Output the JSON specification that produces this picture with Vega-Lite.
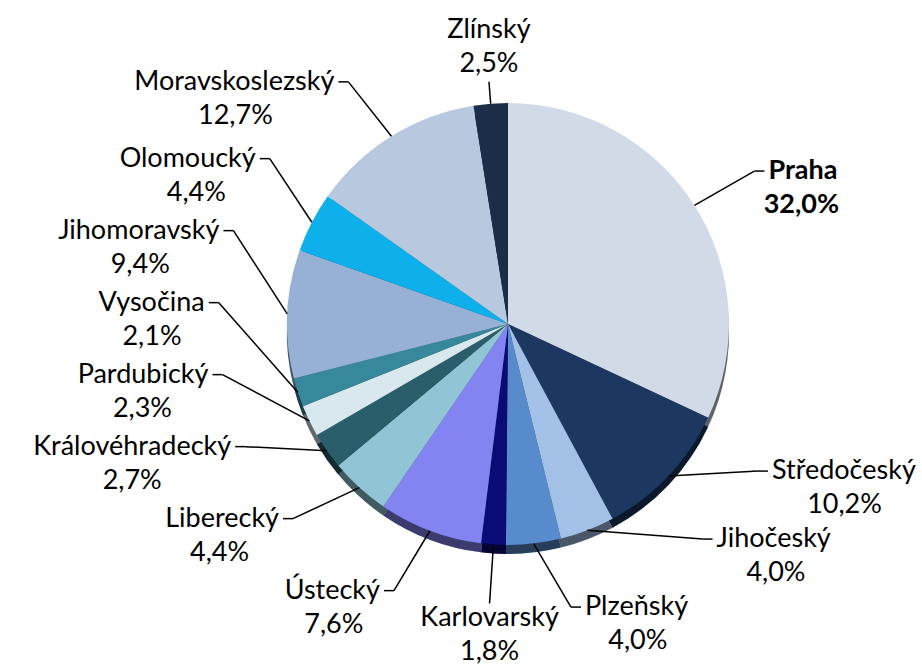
{
  "$schema": "https://vega.github.io/schema/vega-lite/v6.json",
  "width": 828,
  "height": 648,
  "autosize": {"type": "none"},
  "padding": {"left": 94, "top": 0, "right": 0, "bottom": 18},
  "background": "white",
  "config": {"view": {"stroke": null}},
  "data": {
    "values": [
      {"region": "Praha", "share": 32.0},
      {"region": "Středočeský", "share": 10.2},
      {"region": "Jihočeský", "share": 4.0},
      {"region": "Plzeňský", "share": 4.0},
      {"region": "Karlovarský", "share": 1.8},
      {"region": "Ústecký", "share": 7.6},
      {"region": "Liberecký", "share": 4.4},
      {"region": "Královéhradecký", "share": 2.7},
      {"region": "Pardubický", "share": 2.3},
      {"region": "Vysočina", "share": 2.1},
      {"region": "Jihomoravský", "share": 9.4},
      {"region": "Olomoucký", "share": 4.4},
      {"region": "Moravskoslezský", "share": 12.7},
      {"region": "Zlínský", "share": 2.5}
    ]
  },
  "transform": [
    {"window": [{"op": "row_number", "as": "idx"}]},
    {"window": [{"op": "sum", "field": "share", "as": "cum"}], "sort": [{"field": "idx"}], "frame": [null, 0]},
    {"joinaggregate": [{"op": "sum", "field": "share", "as": "total"}, {"op": "max", "field": "share", "as": "maxShare"}]},
    {"calculate": "2*PI*(datum.cum - datum.share/2)/datum.total", "as": "a"},
    {"calculate": "sin(datum.a)", "as": "s"},
    {"calculate": "cos(datum.a)", "as": "c"},
    {"calculate": "datum.s > 0.1 ? 1 : (datum.s < -0.1 ? -1 : 0)", "as": "sg"},
    {"calculate": "285*datum.c", "as": "ny"},
    {"window": [{"op": "row_number", "as": "rk"}], "groupby": ["sg"], "sort": [{"field": "ny", "order": "ascending"}]},
    {"calculate": "datum.sg > 0 ? 68 : 72", "as": "gap"},
    {"calculate": "datum.ny - datum.rk*datum.gap", "as": "z"},
    {"window": [{"op": "max", "field": "z", "as": "zmax"}], "groupby": ["sg"], "sort": [{"field": "ny", "order": "ascending"}], "frame": [null, 0]},
    {"calculate": "datum.zmax + datum.rk*datum.gap", "as": "ly"},
    {"calculate": "datum.c > 0 ? 243 : 280", "as": "rtb"},
    {"calculate": "datum.sg != 0 ? datum.sg*sqrt(max(84100 - datum.ly*datum.ly, 400)) : datum.rtb*datum.s", "as": "bx"},
    {"calculate": "datum.sg != 0 ? datum.ly : datum.rtb*datum.c", "as": "by"},
    {"calculate": "221*datum.s", "as": "ex"},
    {"calculate": "221*datum.c", "as": "ey"},
    {"calculate": "datum.bx + datum.sg*10", "as": "ax"},
    {"calculate": "datum.ax + datum.sg*4", "as": "nx"},
    {"calculate": "datum.sg != 0 ? datum.by : (datum.c > 0 ? datum.by + 52 : datum.by - 15)", "as": "nyy"},
    {"calculate": "datum.nx + datum.sg*length(datum.region)*6.6", "as": "vx"},
    {"calculate": "datum.sg != 0 ? datum.by - 34 : (datum.c > 0 ? datum.by + 18 : datum.by - 49)", "as": "vy"},
    {"calculate": "replace(format(datum.share, '.1f'), '.', ',') + '%'", "as": "vlabel"}
  ],
  "layer": [
    {
      "mark": {"type": "arc", "radius": 221, "yOffset": 9},
      "encoding": {
        "theta": {"field": "share", "type": "quantitative", "stack": true},
        "order": {"field": "idx", "type": "quantitative"},
        "color": {
          "field": "region", "type": "nominal", "legend": null,
          "scale": {
            "domain": ["Praha", "Středočeský", "Jihočeský", "Plzeňský", "Karlovarský", "Ústecký", "Liberecký", "Královéhradecký", "Pardubický", "Vysočina", "Jihomoravský", "Olomoucký", "Moravskoslezský", "Zlínský"],
            "range": ["#d1dbe8", "#1c3760", "#a3c1e6", "#588bcb", "#0b0b78", "#8383f1", "#91c5d5", "#2a5e6b", "#d9e8ee", "#36889a", "#96b1d5", "#0db0ea", "#b8c9df", "#1c2e47"]
          }
        }
      }
    },
    {
      "mark": {"type": "arc", "radius": 221, "yOffset": 9, "color": "#000000", "opacity": 0.55},
      "encoding": {
        "theta": {"field": "share", "type": "quantitative", "stack": true},
        "order": {"field": "idx", "type": "quantitative"}
      }
    },
    {
      "mark": {"type": "arc", "radius": 221},
      "encoding": {
        "theta": {"field": "share", "type": "quantitative", "stack": true},
        "order": {"field": "idx", "type": "quantitative"},
        "color": {"field": "region", "type": "nominal", "legend": null}
      }
    },
    {
      "mark": {"type": "rule", "color": "#000000", "strokeWidth": 1.5},
      "encoding": {
        "x": {"field": "ex", "type": "quantitative", "axis": null, "scale": {"domain": [-414, 414], "nice": false, "zero": false}},
        "y": {"field": "ey", "type": "quantitative", "axis": null, "scale": {"domain": [-324, 324], "nice": false, "zero": false}},
        "x2": {"field": "bx"},
        "y2": {"field": "by"}
      }
    },
    {
      "mark": {"type": "rule", "color": "#000000", "strokeWidth": 1.5},
      "encoding": {
        "x": {"field": "bx", "type": "quantitative", "axis": null, "scale": {"domain": [-414, 414], "nice": false, "zero": false}},
        "y": {"field": "by", "type": "quantitative", "axis": null, "scale": {"domain": [-324, 324], "nice": false, "zero": false}},
        "x2": {"field": "ax"},
        "y2": {"field": "by"}
      }
    },
    {
      "mark": {
        "type": "text", "font": "Lato", "fontSize": 27, "baseline": "middle", "color": "#000000",
        "align": {"expr": "datum.sg > 0 ? 'left' : (datum.sg < 0 ? 'right' : 'center')"},
        "fontWeight": {"expr": "datum.share == datum.maxShare ? 'bold' : 'normal'"}
      },
      "encoding": {
        "x": {"field": "nx", "type": "quantitative", "axis": null, "scale": {"domain": [-414, 414], "nice": false, "zero": false}},
        "y": {"field": "nyy", "type": "quantitative", "axis": null, "scale": {"domain": [-324, 324], "nice": false, "zero": false}},
        "text": {"field": "region", "type": "nominal"}
      }
    },
    {
      "mark": {
        "type": "text", "font": "Lato", "fontSize": 27, "baseline": "middle", "align": "center", "color": "#000000",
        "fontWeight": {"expr": "datum.share == datum.maxShare ? 'bold' : 'normal'"}
      },
      "encoding": {
        "x": {"field": "vx", "type": "quantitative", "axis": null, "scale": {"domain": [-414, 414], "nice": false, "zero": false}},
        "y": {"field": "vy", "type": "quantitative", "axis": null, "scale": {"domain": [-324, 324], "nice": false, "zero": false}},
        "text": {"field": "vlabel", "type": "nominal"}
      }
    }
  ]
}
